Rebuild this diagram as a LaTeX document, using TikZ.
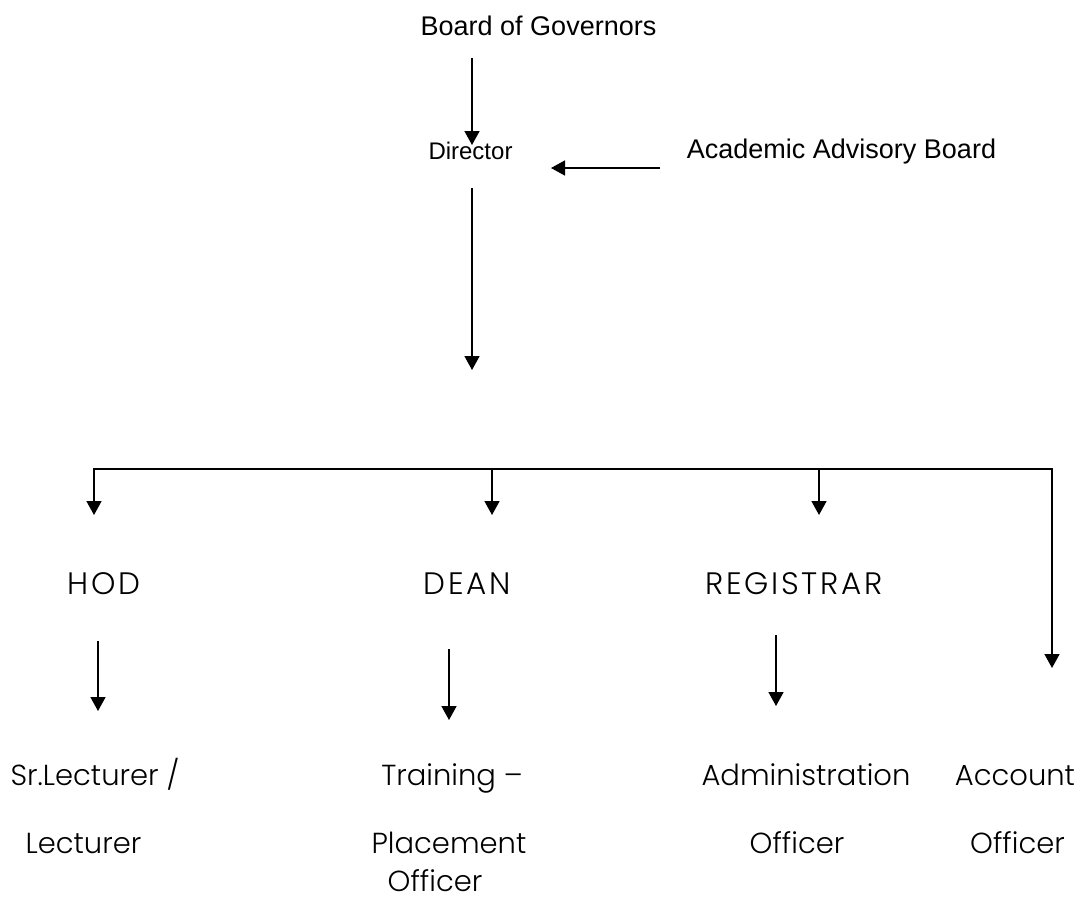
\documentclass[tikz,border=0pt]{standalone}
\usepackage{fontspec}
\setmainfont{Liberation Sans}
\newfontfamily\thinsans{Poppins Light}
\newfontfamily\thincaps{Poppins Light}[LetterSpace=9]
\usetikzlibrary{arrows.meta}

\tikzset{
	link/.style = {-{Triangle[width=15pt,length=14pt]}, line width=1.6pt},
	board/.style = {inner sep=0pt, anchor=base, font=\fontsize{27}{32}\selectfont},
	post/.style = {inner sep=0pt, anchor=base, font=\thinsans\fontsize{29}{34}\selectfont},
	head/.style = {post, font=\thincaps\fontsize{31}{36}\selectfont},
}

\begin{document}
\begin{tikzpicture}[x=1pt, y=-1pt]
\useasboundingbox (0,0) rectangle (1081,900);

% governing bodies
\node[board] (gov) at (538.5,35) {Board of Governors};
\node[board, font=\fontsize{24}{28}\selectfont] (dir) at (470.5,159) {Director};
\node[board] (aab) at (841.5,158) {Academic Advisory Board};

\coordinate (gov-out) at (472,58);
\coordinate (dir-in) at (472,145);
\coordinate (aab-out) at (660,168);
\coordinate (dir-side) at (551,168);
\coordinate (dir-out) at (472,188);
\coordinate (dir-end) at (472,370);

\draw[link] (gov-out) -- (dir-in);
\draw[link] (aab-out) -- (dir-side);
\draw[link] (dir-out) -- (dir-end);

% heads of sections
\node[head] (hod) at (104,594) {HOD};
\node[head] (dean) at (467,594) {DEAN};
\node[head] (reg) at (794,594) {REGISTRAR};

\coordinate (bus) at (492,469);
\coordinate (hod-in) at (94,515);
\coordinate (dean-in) at (492,515);
\coordinate (reg-in) at (819,515);
\coordinate (acc-in) at (1052,668);

\draw[link] (bus) -| (hod-in);
\draw[link] (bus) -| (acc-in);
\draw[link] (bus) -- (dean-in);
\draw[link] (bus -| reg-in) -- (reg-in);

% officers
\node[post] (lect) at (95,785) {Sr.Lecturer /};
\node[post] (lect2) at (83.5,853) {Lecturer};
\node[post] (tpo) at (452,785) {Training –};
\node[post] (tpo2) at (449,853) {Placement};
\node[post] (tpo3) at (435,891) {Officer};
\node[post] (ado) at (806,785) {Administration};
\node[post] (ado2) at (797,853) {Officer};
\node[post] (acc) at (1015,785) {Account};
\node[post] (acc2) at (1017.5,853) {Officer};

\foreach \x/\a/\b in {98/641/711, 449/649/720, 776/635/706}
	\draw[link] (\x,\a) -- (\x,\b);
\end{tikzpicture}
\end{document}
